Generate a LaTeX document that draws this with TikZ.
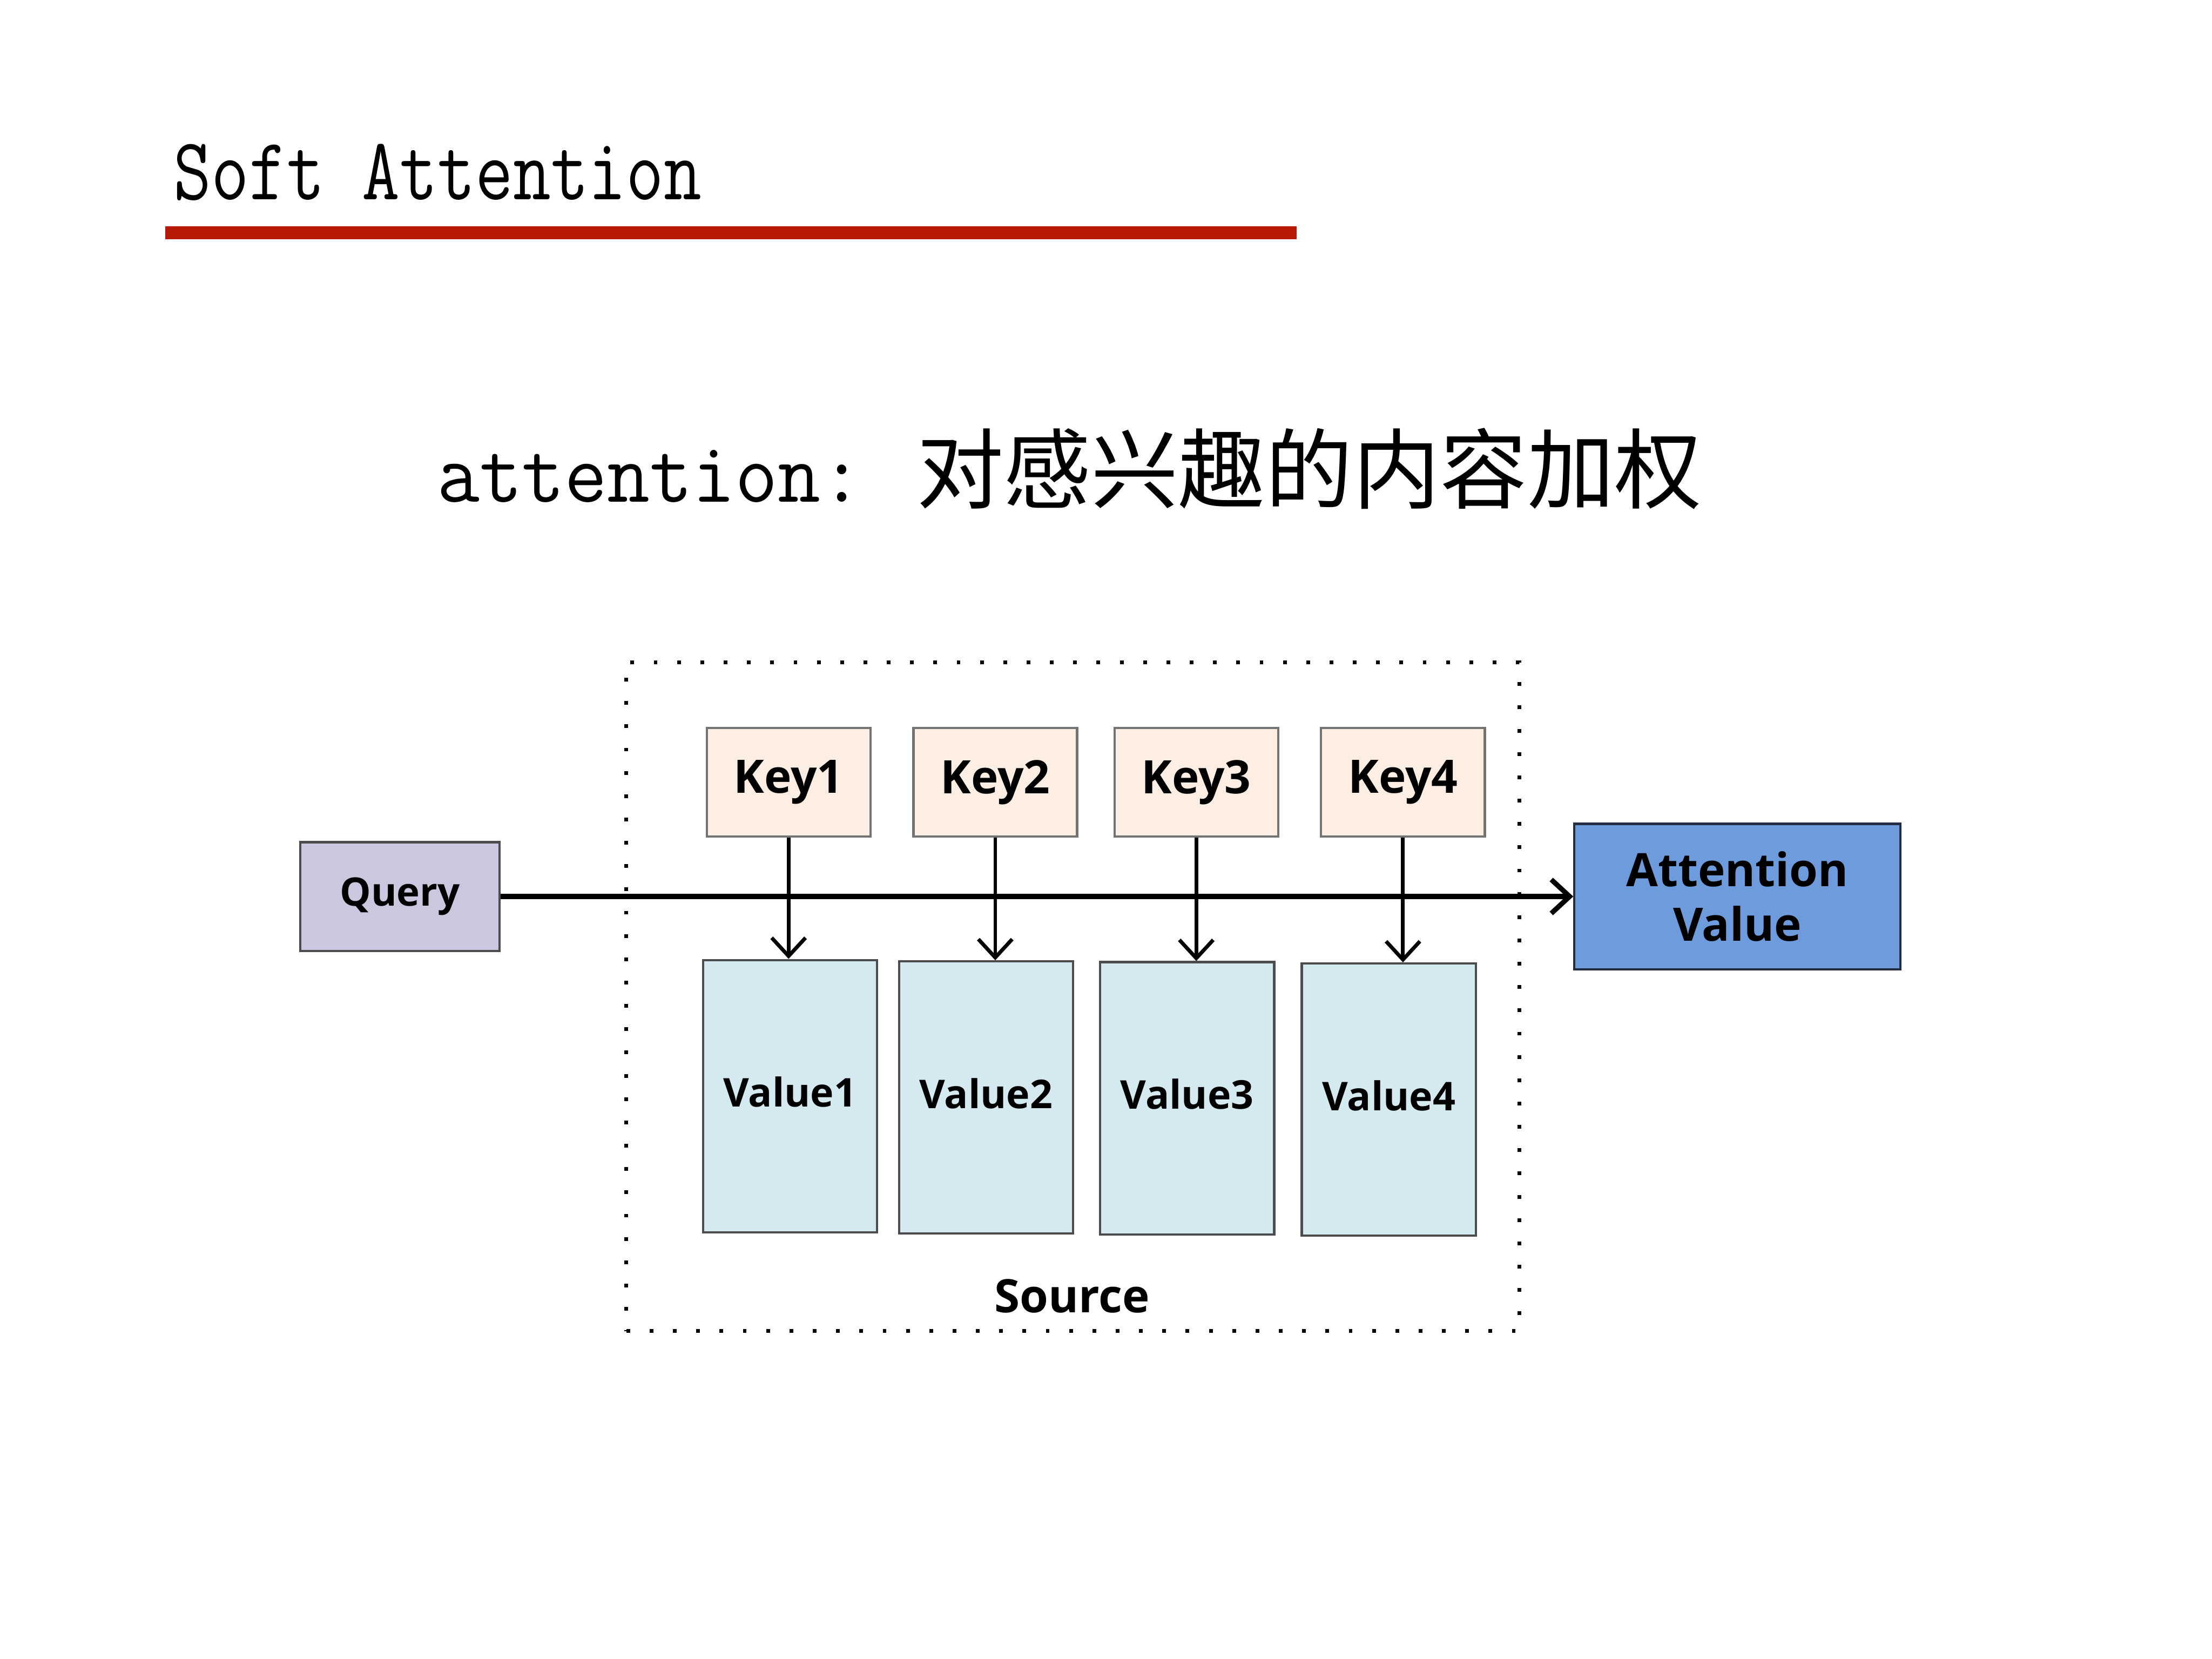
\documentclass[tikz,border=0pt]{standalone}
\usepackage{fontspec}
\usepackage{xcolor}
\usepackage{graphicx}
\usepackage{tikz}
\usetikzlibrary{arrows.meta, positioning}
\newfontfamily\cjk{Noto Sans CJK SC}
\newfontfamily\boxfont{Open Sans}
\definecolor{titlered}{RGB}{184,24,6}
\definecolor{qfill}{RGB}{204,198,222}
\definecolor{kfill}{RGB}{252,238,226}
\definecolor{vfill}{RGB}{212,234,240}
\definecolor{avfill}{RGB}{110,155,220}
\definecolor{avline}{RGB}{35,45,65}

\begin{document}
\begin{tikzpicture}[
  box/.style={rectangle, draw=black!60, line width=0.45pt, inner sep=0pt, text centered,
              font=\boxfont\bfseries\fontsize{9.3}{11}\selectfont},
  keybox/.style={box, fill=kfill, draw=black!55, minimum width=1.16cm, minimum height=0.77cm},
  valbox/.style={box, fill=vfill, draw=black!70, minimum width=1.235cm, minimum height=1.93cm,
                 text depth=0.06cm, font=\boxfont\bfseries\fontsize{8}{10}\selectfont},
  arrow/.style={-{Straight Barb[length=1.3mm, width=2.4mm]}, line width=0.75pt}
]
\useasboundingbox (0,0) rectangle (15.68,11.76);

% heading
\node[anchor=base west, inner sep=0pt] (title) at (1.225,10.345)
  {\scalebox{0.825}[1]{\fontsize{17.9}{20}\selectfont\ttfamily Soft Attention}};
\fill[titlered] (1.17,10.065) rectangle (9.19,10.155);
\node[anchor=base west, inner sep=0pt] (subl) at (3.09,8.20)
  {\scalebox{0.96}[1]{\fontsize{17.4}{20}\selectfont\ttfamily attention:}};
\node[anchor=base west, inner sep=0pt] (subc) at (6.49,8.20)
  {\fontsize{17.6}{20}\selectfont\cjk 对感兴趣的内容加权};

% source frame
\node[draw, line width=0.75pt, dash pattern=on 0.75pt off 3.95pt, minimum width=6.33cm,
      minimum height=4.74cm, inner sep=0pt] (src) at (7.605,4.695) {};
\node[anchor=base, inner sep=0pt, font=\boxfont\bfseries\fontsize{9.3}{11}\selectfont]
  (srclabel) at (7.60,2.456) {Source};

\node[box, fill=qfill, draw=black!70, minimum width=1.41cm, minimum height=0.77cm,
      font=\boxfont\bfseries\fontsize{7.9}{10}\selectfont] (query) at (2.835,5.405) {Query};
\node[box, fill=avfill, draw=avline, minimum width=2.31cm, minimum height=1.03cm,
      align=center] (av) at (12.315,5.405) {Attention\\Value};

\node[keybox] (key1) at (5.59,6.215)  {Key1};
\node[keybox] (key2) at (7.055,6.215) {Key2};
\node[keybox] (key3) at (8.48,6.215)  {Key3};
\node[keybox] (key4) at (9.945,6.215) {Key4};

\node[valbox] (value1) at (5.60,3.99)   {Value1};
\node[valbox] (value2) at (6.99,3.98)   {Value2};
\node[valbox] (value3) at (8.415,3.975) {Value3};
\node[valbox] (value4) at (9.845,3.965) {Value4};

\draw[arrow] (key1) -- (key1 |- value1.north);
\draw[arrow] (key2) -- (key2 |- value2.north);
\draw[arrow] (key3) -- (key3 |- value3.north);
\draw[arrow] (key4) -- (key4 |- value4.north);
\draw[arrow, line width=1pt] (query) -- (av);
\end{tikzpicture}
\end{document}
